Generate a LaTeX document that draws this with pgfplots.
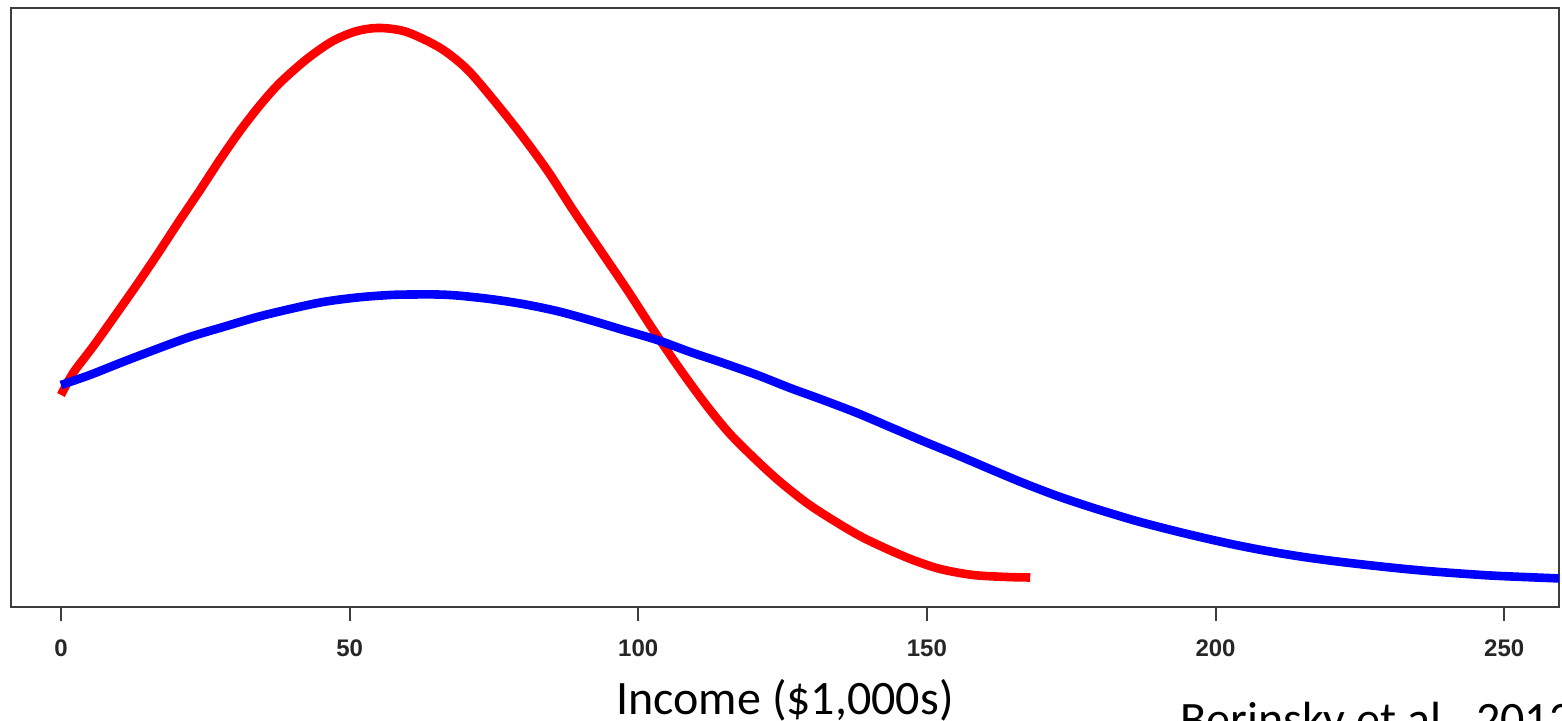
\documentclass[border=0pt]{standalone}
\usepackage{pgfplots}
\pgfplotsset{compat=1.18}
\usepackage{fontspec}
\setmainfont{Carlito}
\newfontfamily\arialfont{Liberation Sans}

\definecolor{boxgray}{RGB}{60,60,60}

\begin{document}
\begin{tikzpicture}[x=0.5pt,y=0.5pt]
\useasboundingbox (0,0) rectangle (1562,721);
\begin{axis}[
  at={(5.5pt,57pt)}, anchor=south west,
  scale only axis,
  width=774pt, height=299.5pt,
  xmin=-8.66, xmax=259.5,
  ymin=0, ymax=599,
  xtick={0,50,100,150,200,250},
  ytick=\empty,
  xtick pos=bottom,
  tick align=outside,
  major tick length=7pt,
  tick style={line width=1pt, color=boxgray},
  axis line style={line width=1pt, color=boxgray},
  /pgf/number format/assume math mode=true,
  xticklabel style={font=\arialfont\bfseries\fontsize{12}{14}\selectfont, text=black!85, yshift=-6pt},
]
% red distribution
\addplot[red, line width=4.3pt, no markers, smooth, tension=0.5] coordinates {
(0,212) (2.1,234) (5.5,260) (9.7,294) (13.7,327) (17.2,357) (20.6,387)
(24.1,417) (27.5,447) (31.0,476) (34.5,502) (37.9,524) (42.6,548)
(47.1,566) (51.3,576) (55.3,579) (59.9,575) (65.7,559) (70.3,538)
(74.8,508) (79.5,474) (84.2,437) (88.7,397) (93.4,357) (98.1,317)
(102.6,277) (107.2,238) (111.9,201) (115.9,173) (120.6,146) (124.6,125)
(129.2,104) (133.7,87) (138.4,71) (143.1,58) (147.6,47) (152.3,38)
(158.0,32) (163.9,30) (167.9,29.5)
};
% blue distribution
\addplot[blue, line width=4.3pt, no markers, smooth, tension=0.5] coordinates {
(0,222) (5.0,232) (10.7,245) (16.6,258) (22.3,270) (28.1,280) (34.0,290)
(39.7,298) (45.4,305) (51.3,309.5) (57.0,312) (61.0,312.5) (65.1,312.5)
(68.6,311.5) (74.3,308) (80.0,303) (85.9,296) (91.6,287) (97.4,277)
(103.3,267) (109.0,255) (114.7,244) (120.6,232) (126.3,219) (132.0,207)
(137.9,194) (143.6,180) (149.3,166) (155.2,152) (160.9,138) (166.7,124)
(172.6,111) (178.3,100) (185.7,87) (191.6,78) (197.3,70) (203.1,62.5)
(208.9,56) (214.7,50.5) (220.4,46) (226.3,42) (232.0,38.5) (237.7,35.5)
(243.6,33) (249.3,31) (262,28)
};
\end{axis}
\node[anchor=base, font=\fontsize{24}{28}\selectfont] at (785,6) {Income (\$1,000s)};
\node[anchor=base west, inner sep=0pt, font=\fontsize{24}{28}\selectfont] at (1180,-15) {Berinsky et al., 2012};
\end{tikzpicture}
\end{document}
